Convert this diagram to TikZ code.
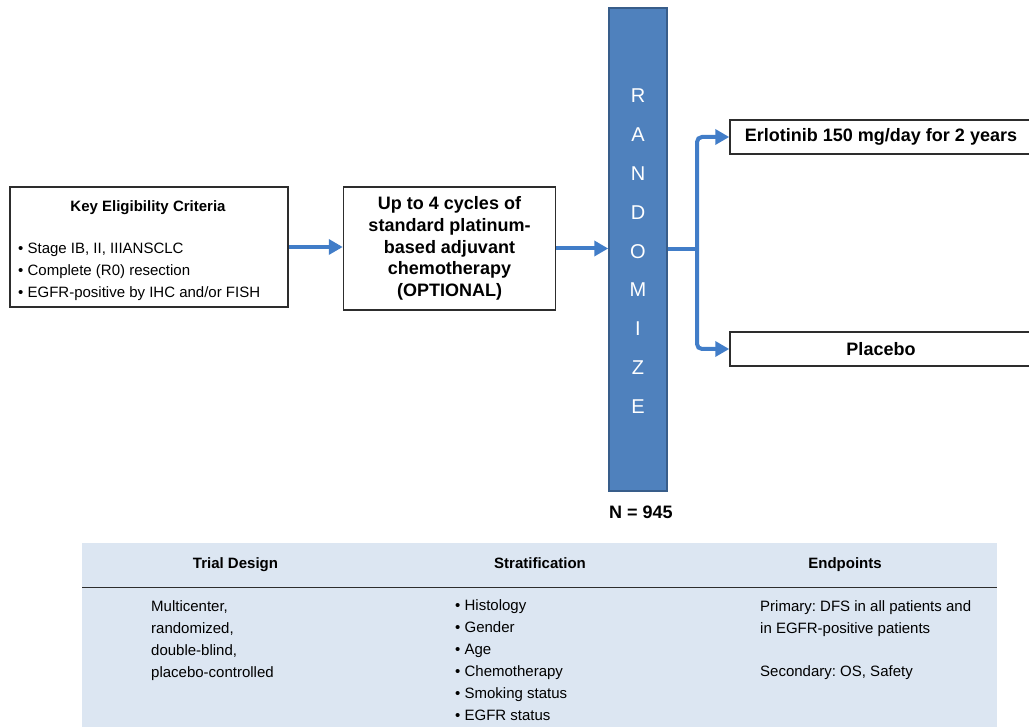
\documentclass[tikz,border=0pt]{standalone}
\usepackage{fontspec}
\setmainfont{Liberation Sans}
\usetikzlibrary{arrows.meta}
\definecolor{barfill}{RGB}{79,129,189}
\definecolor{barline}{RGB}{56,93,138}
\definecolor{arrowblue}{RGB}{65,125,200}
\definecolor{tablefill}{RGB}{220,230,242}
\definecolor{boxline}{RGB}{45,45,45}
\frenchspacing
\begin{document}
\begin{tikzpicture}[x=1pt,y=-1pt,
  box/.style={draw=boxline,line width=1.5pt,fill=white,inner sep=0pt},
  conn/.style={draw=arrowblue,line width=4pt,-{Triangle[length=14pt,width=15pt]}},
  plainconn/.style={draw=arrowblue,line width=4pt},
  body/.style={font=\fontsize{15}{18}\selectfont,inner sep=0pt,anchor=base west},
  head/.style={font=\bfseries\fontsize{15}{18}\selectfont,inner sep=0pt,anchor=base},
  big/.style={font=\bfseries\fontsize{18}{21.7}\selectfont},
  letter/.style={text=white,font=\fontsize{20}{20}\selectfont,inner sep=0pt},
]
\useasboundingbox (0,0) rectangle (1029,727);
\clip (0,0) rectangle (1029,727);

% eligibility box
\node[box,minimum width=278pt,minimum height=120pt] (elig) at (149,247) {};
\node[head] (eligt) at (148,211.5) {Key Eligibility Criteria};
\node[body] (e1) at (18,253.5) {• Stage IB, II, IIIANSCLC};
\node[body] (e2) at (18,275.5) {• Complete (R0) resection};
\node[body] (e3) at (18,297.5) {• EGFR-positive by IHC and/or FISH};

% chemo box
\node[box,big,align=center,minimum width=212pt,minimum height=123pt] (chemo) at (449.5,248.5)
  {Up to 4 cycles of\\standard platinum-\\based adjuvant\\chemotherapy\\(OPTIONAL)};

% randomize bar
\node[draw=barline,fill=barfill,line width=1.5pt,minimum width=58pt,minimum height=483pt,inner sep=0pt] (rand) at (638,249.5) {};
\foreach \L [count=\i from 0] in {R,A,N,D,O,M,I,Z,E}
  \node[letter] (r\i) at (638,{96+38.8*\i}) {\L};
\node[big] (n) at (641,512) {N = 945};

% arms
\node[box,big,minimum width=302pt,minimum height=34pt] (erl) at (881,137) {Erlotinib 150 mg/day for 2 years};
\node[box,big,minimum width=302pt,minimum height=34pt] (plac) at (881,349) {Placebo};

% connectors
\draw[conn] (elig.east) -- (elig.east -| chemo.west);
\draw[conn] (chemo.east) -- (chemo.east -| rand.west);
\coordinate (br) at (697,249);
\draw[plainconn] (rand.east |- br) -- (br);
\draw[conn,rounded corners=5pt] (br) |- (erl.west);
\draw[conn,rounded corners=5pt] (br) |- (plac.west);

% table
\node[fill=tablefill,minimum width=915pt,minimum height=200pt,inner sep=0pt,anchor=north west] (tbl) at (82,543) {};
\coordinate (hl) at (82,587.5);
\coordinate (hr) at (997,587.5);
\draw[boxline,line width=1.5pt] (hl) -- (hr);
\node[head] (h1) at (235.5,568) {Trial Design};
\node[head] (h2) at (540,568) {Stratification};
\node[head] (h3) at (845,568) {Endpoints};

\node[body] (t1) at (151,611) {Multicenter,};
\node[body] (t2) at (151,633) {randomized,};
\node[body] (t3) at (151,655) {double-blind,};
\node[body] (t4) at (151,677) {placebo-controlled};

\node[body] (s1) at (455,610.5) {• Histology};
\node[body] (s2) at (455,632.7) {• Gender};
\node[body] (s3) at (455,654.4) {• Age};
\node[body] (s4) at (455,676.4) {• Chemotherapy};
\node[body] (s5) at (455,698) {• Smoking status};
\node[body] (s6) at (455,720.4) {• EGFR status};

\node[body] (p1) at (760,611) {Primary: DFS in all patients and};
\node[body] (p2) at (760,633) {in EGFR-positive patients};
\node[body] (p3) at (760,676.4) {Secondary: OS, Safety};
\end{tikzpicture}
\end{document}
